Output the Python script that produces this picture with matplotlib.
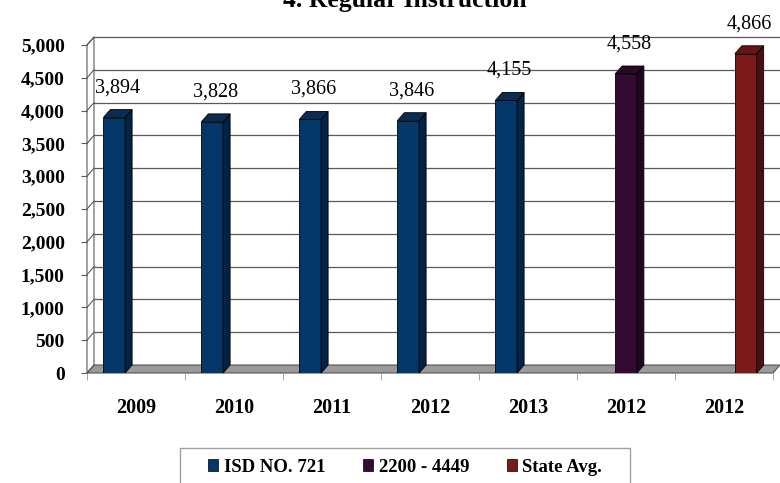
"""Regular Instruction spending chart, Excel-style 3D columns."""
import matplotlib
matplotlib.use("Agg")
import matplotlib.pyplot as plt
from matplotlib.patches import Polygon, Rectangle
from matplotlib.lines import Line2D
from matplotlib.transforms import IdentityTransform

plt.rcParams['font.family'] = ['Liberation Serif', 'DejaVu Serif']

# data
categories = ['2009', '2010', '2011', '2012', '2013', '2012', '2012']
series_names = ['ISD NO. 721', '2200 - 4449', 'State Avg.']
isd_721 = [3894, 3828, 3866, 3846, 4155, None, None]
group_2200_4449 = [None, None, None, None, None, 4558, None]
state_avg = [None, None, None, None, None, None, 4866]
y_ticks = [0, 500, 1000, 1500, 2000, 2500, 3000, 3500, 4000, 4500, 5000]

# face colours: front, side, top
palette = [
    ('#03376a', '#022246', '#0b2c52'),
    ('#350a32', '#21061f', '#2a0827'),
    ('#7a1a1a', '#4c0f10', '#661515'),
]

DX, DY = 7, 8          # depth offset in pixels
W = 1 / 4.5            # bar width (gap width 150%)
LINE = '#5a5a5a'

fig = plt.figure(figsize=(7.8, 4.83), dpi=100)
ax = fig.add_axes([87 / 780, 110 / 483, 686 / 780, 328 / 483])
ax.set_xlim(0, len(categories))
ax.set_ylim(0, y_ticks[-1])
for sp in ax.spines.values():
    sp.set_visible(False)
ax.patch.set_visible(False)

ident = IdentityTransform()


def px(x, y):
    return ax.transData.transform((x, y))


# floor
fx0, fy0 = px(0, 0)
fx1, _ = px(len(categories), 0)
ax.add_patch(Polygon([(fx0, fy0), (fx1, fy0), (fx1 + DX, fy0 + DY), (fx0 + DX, fy0 + DY)],
                     closed=True, facecolor='#9a9a9a', edgecolor='#555555', lw=0.8,
                     transform=ident, clip_on=False, zorder=1))

# left wall and back wall gridlines
_, top_y = px(0, y_ticks[-1])
ax.add_patch(Polygon([(fx0, fy0), (fx0, top_y), (fx0 + DX, top_y + DY), (fx0 + DX, fy0 + DY)],
                     closed=True, facecolor='white', edgecolor=LINE, lw=0.8,
                     transform=ident, clip_on=False, zorder=1))
for t in y_ticks:
    _, ty = px(0, t)
    ax.add_line(Line2D([fx0, fx0 + DX], [ty, ty + DY], color=LINE, lw=0.8,
                       transform=ident, clip_on=False, zorder=1))
    if t > 0:
        ax.add_line(Line2D([fx0 + DX, fig.bbox.width + 5], [ty + DY, ty + DY], color=LINE,
                           lw=0.9, transform=ident, clip_on=False, zorder=1))

# bars
all_series = [isd_721, group_2200_4449, state_avg]
for s, values in enumerate(all_series):
    front, side, top = palette[s]
    for i, v in enumerate(values):
        if v is None:
            continue
        x = i + 0.5 + (s - 1) * W
        ax.bar(x, v, width=W, color=front, edgecolor='black', lw=0.6, zorder=3)
        xl, y1 = px(x - W / 2, v)
        xr, y0 = px(x + W / 2, 0)
        ax.add_patch(Polygon([(xr, y0), (xr, y1), (xr + DX, y1 + DY), (xr + DX, y0 + DY)],
                             closed=True, facecolor=side, edgecolor='black', lw=0.6,
                             transform=ident, clip_on=False, zorder=3))
        ax.add_patch(Polygon([(xl, y1), (xr, y1), (xr + DX, y1 + DY), (xl + DX, y1 + DY)],
                             closed=True, facecolor=top, edgecolor='black', lw=0.6,
                             transform=ident, clip_on=False, zorder=3))
        ax.annotate(f'{v:,}', (x, v), xytext=(DX / 2, 30), textcoords='offset pixels',
                    ha='center', va='center', fontsize=14.5, annotation_clip=False, zorder=4)

# axes ticks
ax.set_yticks(y_ticks)
ax.set_yticklabels([f'{t:,}' for t in y_ticks], fontweight='bold', fontsize=14)
ax.tick_params(axis='y', length=4, color=LINE, pad=12)
ax.set_xticks([i + 0.5 for i in range(len(categories))])
ax.set_xticklabels(categories, fontweight='bold', fontsize=14.5)
ax.set_xticks(range(len(categories) + 1), minor=True)
ax.tick_params(axis='x', which='major', length=0, pad=18)
ax.tick_params(axis='x', which='minor', length=5, color='#999999')

# title, clipped by the top edge as in the source
fig.text(405 / 780, (483 - 7) / 483, '4. Regular Instruction', ha='center', va='baseline',
         fontsize=18.5, fontweight='bold')

# legend
fig.patches.append(Rectangle((180 / 780, -0.05), 450 / 780, 0.05 + 35 / 483,
                             transform=fig.transFigure, facecolor='white',
                             edgecolor='#a0a0a0', lw=1))
handles = [Rectangle((0, 0), 1, 1, facecolor=palette[k][0], edgecolor='black', lw=0.5)
           for k in range(len(series_names))]
fig.legend(handles, series_names, loc='center', bbox_to_anchor=(405 / 780, 16 / 483),
           ncol=3, frameon=False, handlelength=0.55, handleheight=0.55, handletextpad=0.3,
           columnspacing=2.0, prop={'weight': 'bold', 'size': 13.5})

fig.savefig('out.png', dpi=100)
